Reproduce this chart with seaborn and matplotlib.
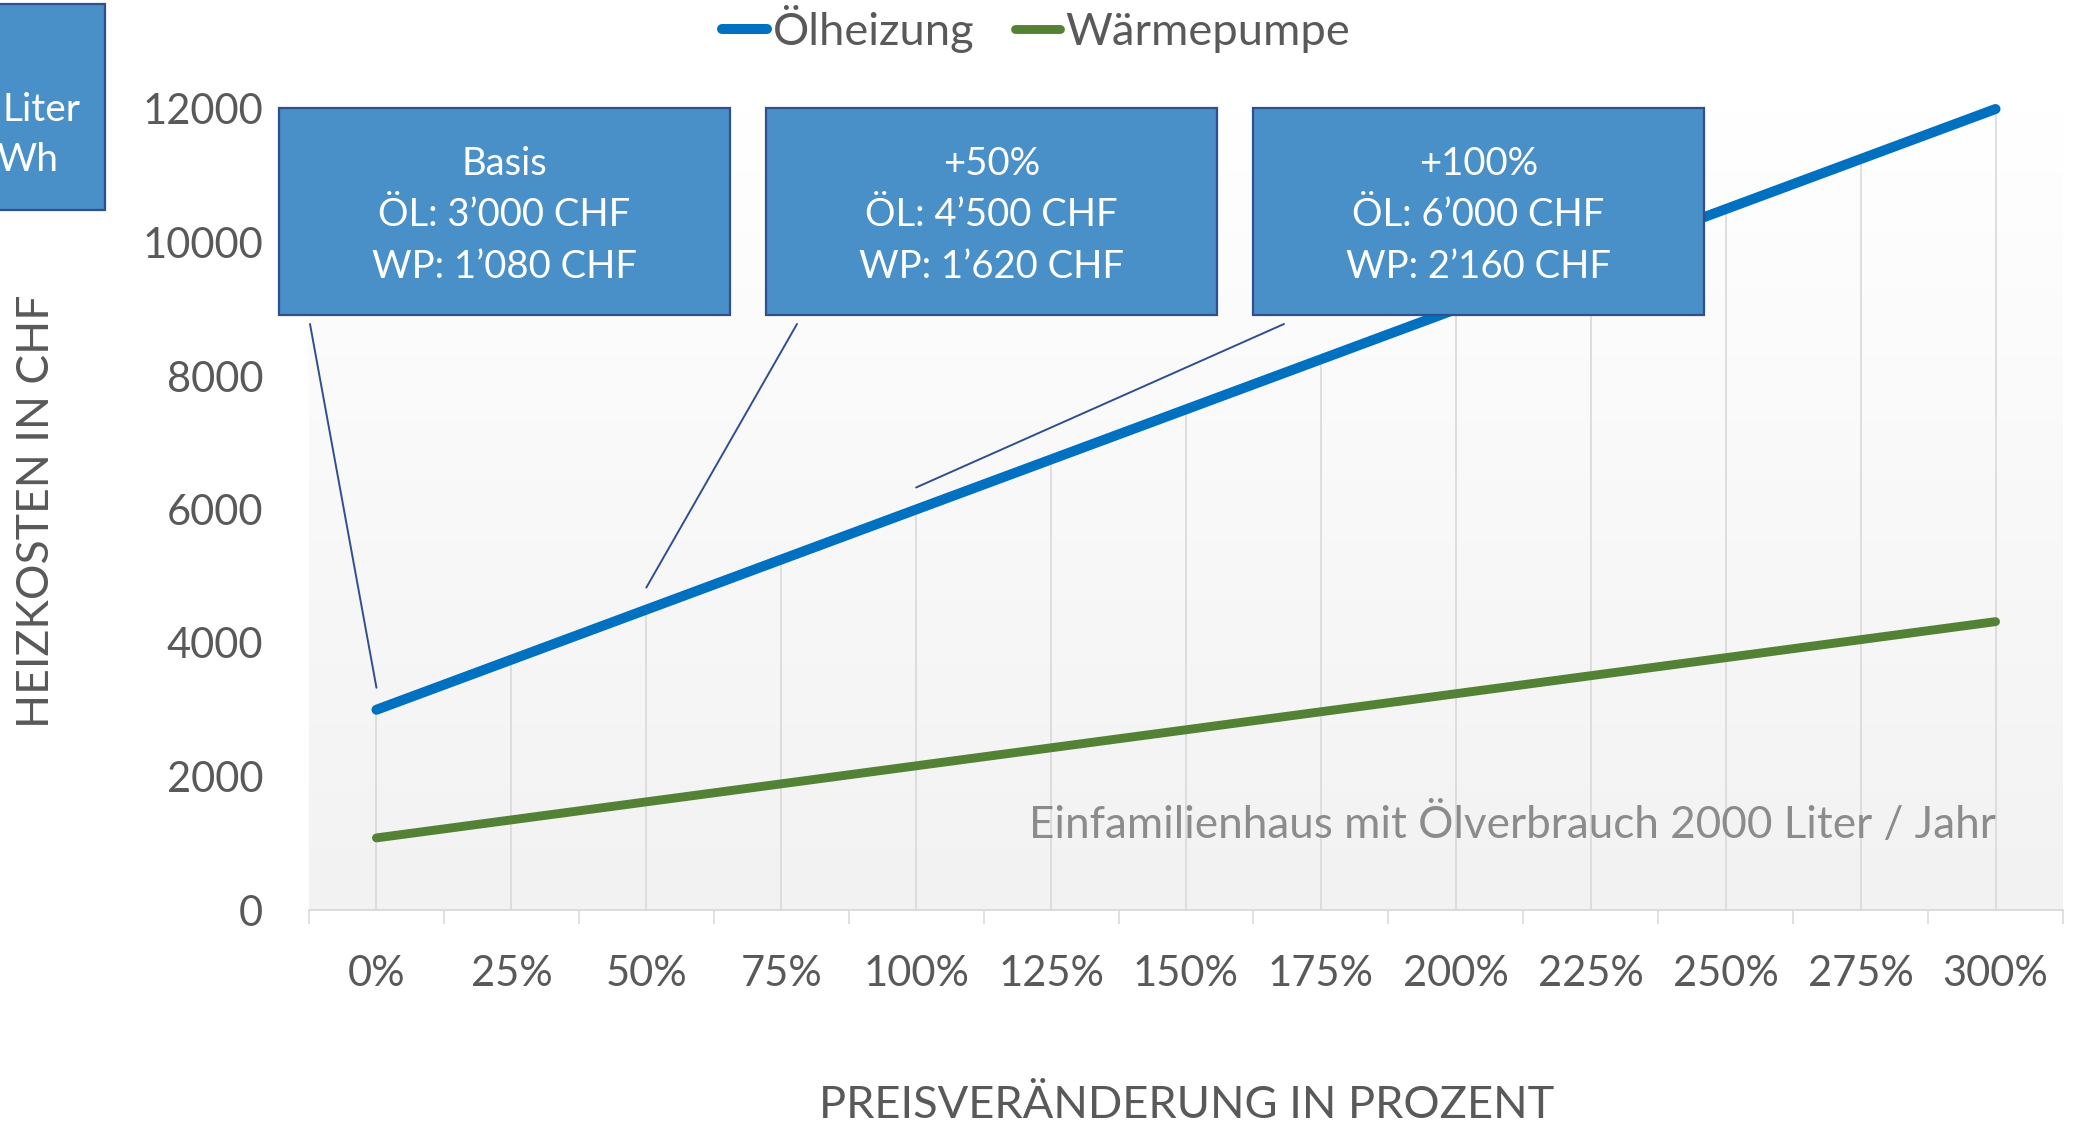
import seaborn as sns
import matplotlib.pyplot as plt
import pandas as pd
import numpy as np
from matplotlib.patches import Rectangle
from matplotlib.colors import LinearSegmentedColormap

# -----------------------
# Data
# -----------------------
price_labels = ["0%", "25%", "50%", "75%", "100%", "125%", "150%", "175%",
                "200%", "225%", "250%", "275%", "300%"]
oil_cost = [3000, 3750, 4500, 5250, 6000, 6750, 7500, 8250, 9000, 9750,
            10500, 11250, 12000]
hp_cost = [1080, 1350, 1620, 1890, 2160, 2430, 2700, 2970, 3240, 3510,
           3780, 4050, 4320]
series_names = ["Ölheizung", "Wärmepumpe"]

callout_idx = [0, 2, 4]
callout_texts = [
    "Basis\nÖL: 3’000 CHF\nWP: 1’080 CHF",
    "+50%\nÖL: 4’500 CHF\nWP: 1’620 CHF",
    "+100%\nÖL: 6’000 CHF\nWP: 2’160 CHF",
]
note_text = "Einfamilienhaus mit Ölverbrauch 2000 Liter / Jahr"

rows = []
for i, lab in enumerate(price_labels):
    rows.append([i, lab, series_names[0], oil_cost[i]])
    rows.append([i, lab, series_names[1], hp_cost[i]])
df = pd.DataFrame(rows, columns=["pos", "Preis", "Serie", "CHF"])

# -----------------------
# Style
# -----------------------
sns.set_style("white")
plt.rcParams["font.family"] = ["Lato", "DejaVu Sans"]

W, H = 2082, 1125
fig = plt.figure(figsize=(W / 100, H / 100), dpi=100)
ax = fig.add_axes([309 / W, 1 - 910 / H, 1754 / W, 801 / H])

FS = 30
grey_txt = "#595959"
BLUE = "#0070C0"
GREEN = "#548235"

# gradient plot area background
cmap = LinearSegmentedColormap.from_list("bg", ["#ffffff", "#f2f2f2"])
ax.imshow(np.linspace(0, 1, 256).reshape(-1, 1), cmap=cmap, aspect="auto",
          extent=[-0.5, len(price_labels) - 0.5, 0, 12000], origin="upper",
          zorder=0)

# drop lines
ax.vlines(range(len(price_labels)), 0, oil_cost, colors="#d9d9d9",
          linewidth=1.2, zorder=1)

lines = sns.lineplot(
    data=df, x="pos", y="CHF", hue="Serie",
    palette={series_names[0]: BLUE, series_names[1]: GREEN},
    linewidth=7.2, ax=ax, legend=False, zorder=3,
)
for ln, lw in zip(ax.get_lines(), [7.2, 6.4]):
    ln.set_solid_capstyle("round")
    ln.set_linewidth(lw)
    ln.set_clip_on(False)

ax.set_xlim(-0.5, len(price_labels) - 0.5)
ax.set_ylim(0, 12000)

ax.set_xticks(range(len(price_labels)))
ax.set_xticklabels(price_labels)
ax.set_xticks(np.arange(-0.5, len(price_labels), 1), minor=True)
ax.set_yticks(range(0, 12001, 2000))
ax.tick_params(axis="x", which="major", length=0, pad=32.5, labelsize=FS,
               labelcolor=grey_txt)
ax.tick_params(axis="x", which="minor", length=10, width=1.1,
               color="#d9d9d9", direction="out", bottom=True)
ax.tick_params(axis="y", length=0, pad=33, labelsize=FS, labelcolor=grey_txt)

for s in ["top", "right", "left"]:
    ax.spines[s].set_visible(False)
ax.spines["bottom"].set_color("#d9d9d9")
ax.spines["bottom"].set_linewidth(1.3)

ax.set_xlabel("PREISVERÄNDERUNG IN PROZENT", fontsize=32.6, color=grey_txt)
ax.set_ylabel("HEIZKOSTEN IN CHF", fontsize=32, color=grey_txt)
ax.xaxis.label.set_va("center")
ax.yaxis.label.set_va("center")
ax.xaxis.set_label_coords((1187 - 309) / 1754, (910 - 1105) / 801)
ax.yaxis.set_label_coords((37 - 309) / 1754, (910 - 511) / 801)

ax.text(len(price_labels) - 1, 1280, note_text, ha="right", va="center",
        fontsize=31.7, color="#8c8c8c", zorder=4)

# legend
handles = ax.get_lines()[:2]
ax.legend(handles, series_names, loc="center", bbox_to_anchor=(1036 / W, 1 - 29 / H),
          bbox_transform=fig.transFigure, ncol=2, frameon=False, fontsize=32.6,
          handlelength=1.0, handletextpad=0.12, columnspacing=0.9,
          labelcolor=grey_txt)

# callout boxes
BOX_FC = "#4A90C8"
BOX_EC = "#2F4F8F"
box_left = [279, 766, 1253]
box_top, box_w, box_h = 108, 451, 207
for bl, idx, txt in zip(box_left, callout_idx, callout_texts):
    fig.add_artist(Rectangle((bl / W, 1 - (box_top + box_h) / H), box_w / W, box_h / H,
                             transform=fig.transFigure, facecolor=BOX_FC,
                             edgecolor=BOX_EC, linewidth=1.6, zorder=5))
    fig.text((bl + box_w / 2) / W, 1 - (box_top + box_h / 2 + 4) / H, txt,
             ha="center", va="center", fontsize=27.5, color="white",
             linespacing=1.55, zorder=6)
    ax.annotate("", xy=(idx, oil_cost[idx] + 330), xycoords="data",
                xytext=(bl + 31, H - 324), textcoords="figure pixels",
                arrowprops=dict(arrowstyle="-", color="#2F4F8F", lw=1.4,
                                shrinkA=0, shrinkB=0),
                annotation_clip=False, zorder=4)

# cut-off box at top left
fig.add_artist(Rectangle((-20 / W, 1 - 210 / H), 125 / W, 206 / H,
                         transform=fig.transFigure, facecolor=BOX_FC,
                         edgecolor=BOX_EC, linewidth=1.6, zorder=5))
fig.text(2 / W, 1 - 110 / H, "Liter", ha="left", va="center", fontsize=28,
         color="white", zorder=6)
fig.text(-4 / W, 1 - 160 / H, "Wh", ha="left", va="center", fontsize=28,
         color="white", zorder=6)

fig.savefig("out.png", dpi=100)
